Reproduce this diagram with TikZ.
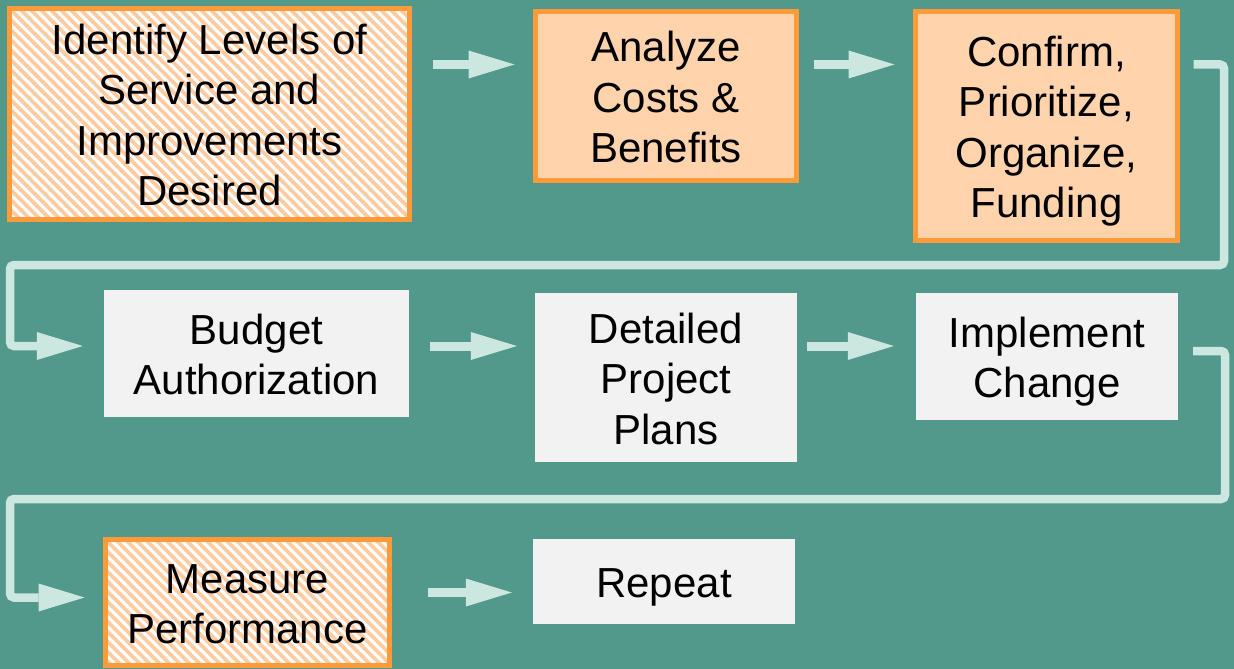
\documentclass[tikz,border=0pt]{standalone}
\usepackage{fontspec}
\setmainfont{Liberation Sans}
\usetikzlibrary{arrows.meta}
\definecolor{bgteal}{HTML}{52998C}
\definecolor{conn}{HTML}{CCE6E0}
\definecolor{orng}{HTML}{FF9A3B}
\definecolor{peach}{HTML}{FFD4AD}
\definecolor{stripe}{HTML}{FFCBA0}
\definecolor{graybox}{HTML}{F2F2F2}
\newcommand\topstr{\rule{0pt}{42pt}}
\newcommand\botstr{\rule[-10pt]{0pt}{10pt}}
\tikzset{
  box/.style={rectangle, inner sep=0pt, align=center, font=\fontsize{42}{50.5}\selectfont, text=black},
  orangebox/.style={box, draw=orng, line width=5pt, fill=peach},
  hatchbox/.style={box, draw=orng, line width=5pt, fill=white, path picture={
    \foreach \i in {-260,-250,...,420}{\draw[stripe, line width=3.6pt] ([xshift=\i*1pt]path picture bounding box.north west) -- ++(420pt,-420pt);}}},
  graybx/.style={box, fill=graybox},
  flow/.style={draw=conn, line width=9pt, -{Triangle[length=46pt,width=28pt,line width=0pt]}},
  loopc/.style={flow, line width=8.5pt, rounded corners=4pt},
}
\begin{document}
\begin{tikzpicture}[x=1pt,y=-1pt]
\fill[bgteal] (0,0) rectangle (1234,669);
\useasboundingbox (0,0) rectangle (1234,669);

\node[hatchbox, minimum width=400pt, minimum height=211pt] (id) at (209.5,114) {\topstr Identify Levels of\\Service and\\Improvements\\Desired\botstr};
\node[orangebox, minimum width=261pt, minimum height=169pt] (an) at (666,96) {\topstr Analyze\\Costs \&\\Benefits\botstr};
\node[orangebox, minimum width=262pt, minimum height=229pt] (cf) at (1046.5,126) {\topstr Confirm,\\Prioritize,\\Organize,\\Funding\botstr};
\node[graybx, minimum width=305pt, minimum height=127pt] (bu) at (256.5,353.5) {\topstr Budget\\Authorization\botstr};
\node[graybx, minimum width=262pt, minimum height=169pt] (dp) at (666,377.5) {\topstr Detailed\\Project\\Plans\botstr};
\node[graybx, minimum width=262pt, minimum height=127pt] (im) at (1047,356.5) {\topstr Implement\\Change\botstr};
\node[hatchbox, minimum width=284pt, minimum height=126pt] (ms) at (247.5,602.5) {\topstr Measure\\Performance\botstr};
\node[graybx, minimum width=262pt, minimum height=85pt] (rp) at (664,581.5) {\topstr Repeat\botstr};

\coordinate (r1) at (0,64.5);
\coordinate (r2) at (0,346);
\coordinate (r2b) at (0,351);
\coordinate (r3) at (0,597.5);
\coordinate (r3b) at (0,592.5);

\draw[flow, shorten <=20.5pt, shorten >=18.5pt] (id.east |- r1) -- (an.west |- r1);
\draw[flow, shorten <=14.5pt, shorten >=18.5pt] (an.east |- r1) -- (cf.west |- r1);
\draw[loopc, shorten <=13.5pt, shorten >=21pt] (cf.east |- r1) -- (1224,64.5) -- (1224,265) -- (10,265) -- (10,346) -- (bu.west |- r2);
\draw[flow, shorten <=21pt, shorten >=18pt] (bu.east |- r2) -- (dp.west |- r2);
\draw[flow, shorten <=10pt, shorten >=22pt] (dp.east |- r2) -- (im.west |- r2);
\draw[loopc, shorten <=15pt, shorten >=18.5pt] (im.east |- r2b) -- (1225,351) -- (1225,499) -- (10,499) -- (10,597.5) -- (ms.west |- r3);
\draw[flow, shorten <=35.5pt, shorten >=21pt] (ms.east |- r3b) -- (rp.west |- r3b);
\end{tikzpicture}
\end{document}
